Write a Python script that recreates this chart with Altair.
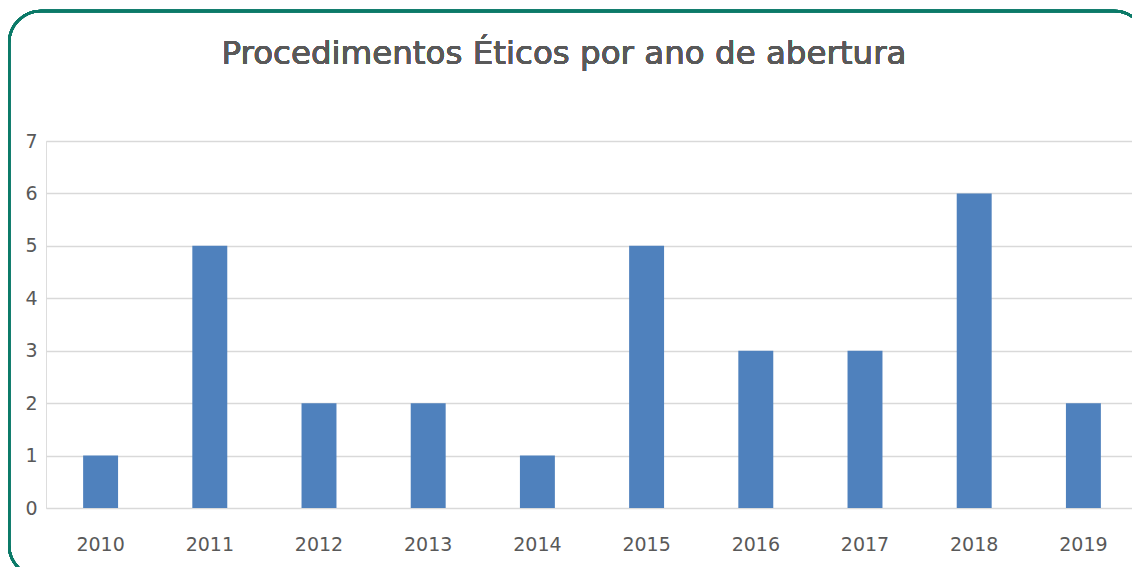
import altair as alt
import pandas as pd

years = ["2010", "2011", "2012", "2013", "2014", "2015", "2016", "2017", "2018", "2019"]
counts = [1, 5, 2, 2, 1, 5, 3, 3, 6, 2]
title_text = "Procedimentos Éticos por ano de abertura"

df = pd.DataFrame({"ano": years, "n": counts})

FONT = "DejaVu Sans"
GREY = "#595959"

bars = alt.Chart(df).mark_bar(color="#4f81bd").encode(
    x=alt.X(
        "ano:N",
        sort=years,
        title=None,
        scale=alt.Scale(paddingInner=0.68, paddingOuter=0.34),
        axis=alt.Axis(
            labelAngle=0,
            labelFont=FONT,
            labelFontSize=19,
            labelColor=GREY,
            labelPadding=27,
            ticks=False,
            domain=False,
            grid=False,
        ),
    ),
    y=alt.Y(
        "n:Q",
        title=None,
        scale=alt.Scale(domain=[0, 7], nice=False),
        axis=alt.Axis(
            values=[0, 1, 2, 3, 4, 5, 6, 7],
            labelFont=FONT,
            labelFontSize=19,
            labelColor=GREY,
            labelPadding=9,
            ticks=False,
            domain=False,
            grid=True,
            gridColor="#d9d9d9",
            gridWidth=1.5,
        ),
    ),
)

frame = alt.Chart(df).mark_rect(
    filled=False,
    stroke="#0b7a68",
    strokeWidth=2.5,
    cornerRadius=32,
    clip=False,
).encode(
    x=alt.value(-37),
    x2=alt.value(1100),
    y=alt.value(-130),
    y2=alt.value(436),
)

title = alt.Chart(df).mark_text(
    text=title_text,
    font=FONT,
    fontSize=32.5,
    fontWeight="normal",
    color=GREY,
    align="center",
    baseline="alphabetic",
).encode(
    x=alt.value(518),
    y=alt.value(-77),
)

chart = (
    alt.layer(bars, frame, title)
    .properties(
        width=1092,
        height=367,
        autosize=alt.AutoSizeParams(type="none"),
        padding={"left": 38, "top": 133, "right": -6, "bottom": 59},
    )
    .configure_view(stroke=None)
    .configure(background="white")
)

chart.save("out.html", embed_options={"renderer": "svg", "actions": False})
